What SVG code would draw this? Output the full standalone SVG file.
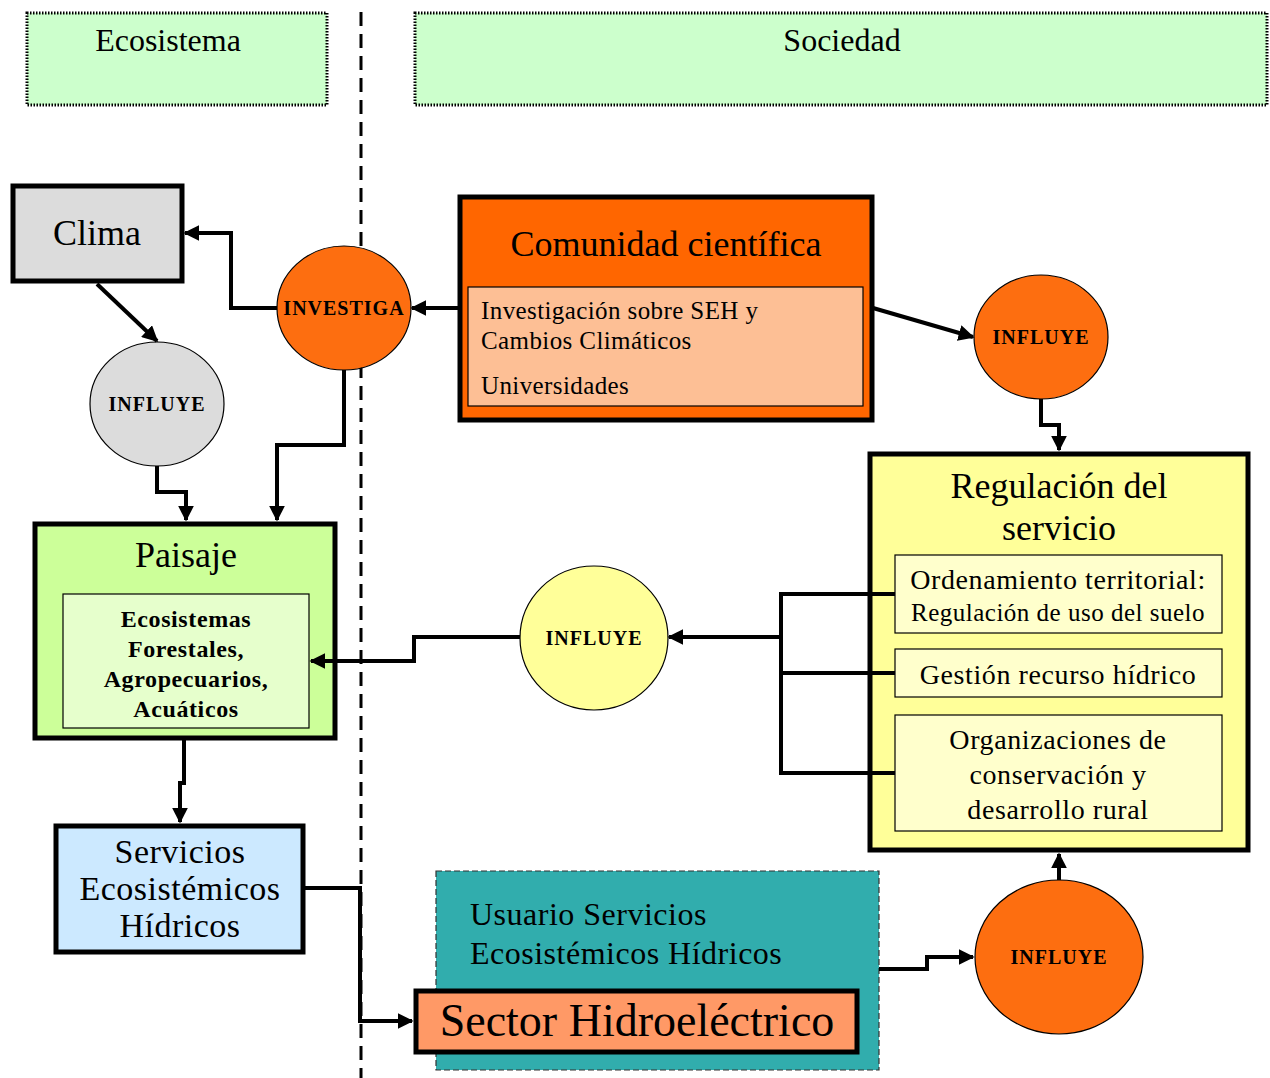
<svg xmlns="http://www.w3.org/2000/svg" width="1270" height="1078" viewBox="0 0 1270 1078">
<defs>
<marker id="ah" viewBox="0 0 10 10" refX="9" refY="5" markerWidth="4" markerHeight="4" orient="auto" markerUnits="strokeWidth">
<path d="M0,0 L10,5 L0,10 z" fill="#000"/>
</marker>
<style>
text{font-family:"Liberation Serif","Times New Roman",serif;fill:#000}
.hdr{stroke:#000;stroke-width:3;stroke-dasharray:1.5 1.5}
.box{stroke:#000;stroke-width:5}
.inner{stroke:#000;stroke-width:1.2}
.ell{stroke:#000;stroke-width:1.2}
.c{text-anchor:middle}
.lbl{font-weight:bold;font-size:20px;text-anchor:middle;letter-spacing:1px}
.sub{font-size:28px;letter-spacing:0.6px;text-anchor:middle}
.con{fill:none;stroke:#000;stroke-width:4;marker-end:url(#ah)}
.conn{fill:none;stroke:#000;stroke-width:4}
</style>
</defs>
<rect width="1270" height="1078" fill="#fff"/>

<g id="header-ecosistema">
<rect x="27" y="13" width="300" height="92" fill="#ccffcc" class="hdr"/>
<text x="168" y="51" font-size="32" class="c">Ecosistema</text>
</g>
<g id="header-sociedad">
<rect x="415" y="13" width="852" height="92" fill="#ccffcc" class="hdr"/>
<text x="842" y="51" font-size="32" class="c">Sociedad</text>
</g>

<g id="usuario">
<rect x="436" y="871" width="443" height="199" fill="#31adad" stroke="#333" stroke-width="1.2" stroke-dasharray="6 3"/>
<text x="470" y="925" font-size="32" letter-spacing="0.5">Usuario Servicios</text>
<text x="470" y="964" font-size="32" letter-spacing="0.5">Ecosistémicos Hídricos</text>
</g>

<line id="divider" x1="361" y1="12" x2="361" y2="1078" stroke="#000" stroke-width="3" stroke-dasharray="14 8"/>

<g id="clima">
<rect x="13" y="186" width="169" height="95" fill="#dcdcdc" class="box"/>
<text x="97" y="245" font-size="36" class="c">Clima</text>
</g>

<g id="influye-gris">
<ellipse cx="157" cy="404" rx="67" ry="62" fill="#dcdcdc" class="ell"/>
<text x="157" y="411" class="lbl">INFLUYE</text>
</g>

<g id="investiga">
<ellipse cx="344" cy="308" rx="67" ry="62" fill="#fd6e10" class="ell"/>
<text x="344" y="315" class="lbl" letter-spacing="1.3">INVESTIGA</text>
</g>

<g id="comunidad">
<rect x="460" y="197" width="412" height="223" fill="#ff6600" class="box"/>
<text x="666" y="256" font-size="36" class="c">Comunidad científica</text>
<rect x="468" y="287" width="395" height="119" fill="#fdbf95" class="inner"/>
<text x="481" y="319" font-size="25" letter-spacing="0.4">Investigación sobre SEH y</text>
<text x="481" y="349" font-size="25" letter-spacing="0.4">Cambios Climáticos</text>
<text x="481" y="394" font-size="25" letter-spacing="0.4">Universidades</text>
</g>

<g id="influye-naranja-1">
<ellipse cx="1041" cy="337" rx="67" ry="62" fill="#fd6e10" class="ell"/>
<text x="1041" y="344" class="lbl">INFLUYE</text>
</g>

<g id="regulacion">
<rect x="870" y="454" width="378" height="396" fill="#ffff99" class="box"/>
<text x="1059" y="498" font-size="36" class="c">Regulación del</text>
<text x="1059" y="540" font-size="36" class="c">servicio</text>
<rect x="895" y="555" width="327" height="78" fill="#ffffcc" class="inner"/>
<text x="1058" y="589" class="sub">Ordenamiento territorial:</text>
<text x="1058" y="621" font-size="25" letter-spacing="0.5" class="c">Regulación de uso del suelo</text>
<rect x="895" y="649" width="327" height="48" fill="#ffffcc" class="inner"/>
<text x="1058" y="684" class="sub">Gestión recurso hídrico</text>
<rect x="895" y="715" width="327" height="116" fill="#ffffcc" class="inner"/>
<text x="1058" y="749" class="sub">Organizaciones de</text>
<text x="1058" y="784" class="sub">conservación y</text>
<text x="1058" y="819" class="sub">desarrollo rural</text>
</g>

<g id="influye-amarillo">
<ellipse cx="594" cy="638" rx="74" ry="72" fill="#ffff99" class="ell"/>
<text x="594" y="645" class="lbl">INFLUYE</text>
</g>

<g id="paisaje">
<rect x="35" y="524" width="300" height="214" fill="#ccff99" class="box"/>
<text x="186" y="567" font-size="36" class="c">Paisaje</text>
<rect x="63" y="594" width="246" height="134" fill="#e6ffcc" class="inner"/>
<text x="186" y="627" font-size="24" font-weight="bold" letter-spacing="0.6" class="c">Ecosistemas</text>
<text x="186" y="657" font-size="24" font-weight="bold" letter-spacing="0.6" class="c">Forestales,</text>
<text x="186" y="687" font-size="24" font-weight="bold" letter-spacing="0.6" class="c">Agropecuarios,</text>
<text x="186" y="717" font-size="24" font-weight="bold" letter-spacing="0.6" class="c">Acuáticos</text>
</g>

<g id="servicios">
<rect x="56" y="826" width="247" height="126" fill="#cce9ff" class="box"/>
<text x="180" y="863" font-size="34" letter-spacing="0.5" class="c">Servicios</text>
<text x="180" y="900" font-size="34" letter-spacing="0.5" class="c">Ecosistémicos</text>
<text x="180" y="937" font-size="34" letter-spacing="0.5" class="c">Hídricos</text>
</g>

<g id="sector">
<rect x="416" y="991" width="441" height="61" fill="#ff9966" class="box"/>
<text x="637" y="1036" font-size="46" class="c">Sector Hidroeléctrico</text>
</g>

<g id="influye-naranja-2">
<ellipse cx="1059" cy="957" rx="84" ry="77" fill="#fd6e10" class="ell"/>
<text x="1059" y="964" class="lbl">INFLUYE</text>
</g>

<g id="connectors">
<path class="con" d="M458,308 H412"/>
<path class="con" d="M277,308 H231 V233 H185"/>
<path class="con" d="M344,370 V445 H277 V520"/>
<path class="con" d="M97,284 L157,341"/>
<path class="con" d="M157,466 V492 H186 V520"/>
<path class="con" d="M873,308 L973,337"/>
<path class="con" d="M1041,399 V425 H1059 V450"/>
<path class="conn" d="M895,594 H781 V773 H895 M781,673 H895"/>
<path class="con" d="M781,637 H669"/>
<path class="con" d="M520,637 H414 V661 H311"/>
<path class="con" d="M184,740 V783 H180 V822"/>
<path class="con" d="M305,888 H360 V1021 H412"/>
<path class="con" d="M879,969 H927 V957 H973"/>
<path class="con" d="M1059,880 V854"/>
</g>
</svg>
